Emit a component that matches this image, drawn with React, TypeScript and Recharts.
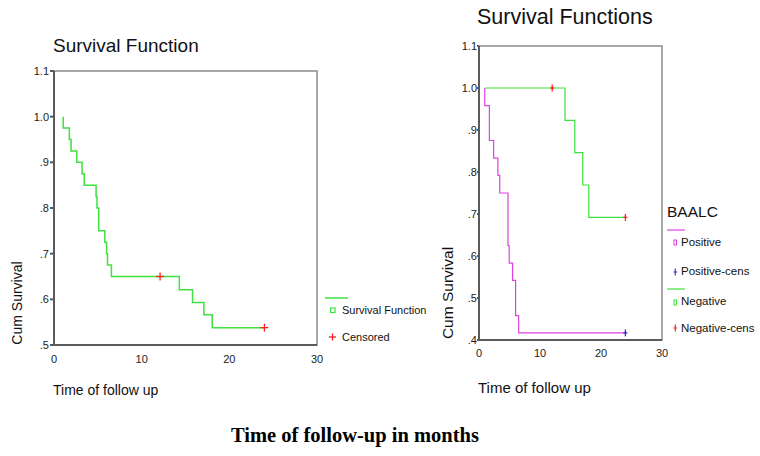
import React from 'react';
import {
  ComposedChart,
  Line,
  Scatter,
  XAxis,
  YAxis,
  ReferenceArea,
} from 'recharts';

// ---------- Data ----------
// Left: overall survival function (time in months, cumulative survival)
const overallTimes = [1.05, 1.05, 1.75, 1.95, 2.6, 3.2, 3.45, 4.8, 4.9, 5.1, 5.8, 6.0, 6.1, 6.55, 14.3, 15.8, 17.1, 18.05, 24.0];
const overallSurv = [1.0, 0.975, 0.95, 0.925, 0.9, 0.875, 0.85, 0.825, 0.8, 0.75, 0.725, 0.7, 0.675, 0.65, 0.621, 0.593, 0.566, 0.538, 0.538];
const overallCensTimes = [12.1, 24.0];
const overallCensSurv = [0.65, 0.538];

// Right: BAALC positive
const posTimes = [0.95, 0.95, 1.7, 2.4, 3.1, 3.4, 4.75, 4.95, 5.5, 6.0, 6.5, 24.0];
const posSurv = [1.0, 0.958, 0.875, 0.833, 0.792, 0.75, 0.625, 0.583, 0.542, 0.458, 0.417, 0.417];
const posCensTimes = [24.0];
const posCensSurv = [0.417];

// Right: BAALC negative
const negTimes = [0.95, 14.1, 15.7, 17.0, 18.0, 24.0];
const negSurv = [1.0, 0.923, 0.846, 0.769, 0.692, 0.692];
const negCensTimes = [12.0, 24.0];
const negCensSurv = [1.0, 0.692];

const xTicks = [0, 10, 20, 30];
const leftYTicks = [0.5, 0.6, 0.7, 0.8, 0.9, 1.0, 1.1];
const rightYTicks = [0.4, 0.5, 0.6, 0.7, 0.8, 0.9, 1.0, 1.1];

const zip = (ts: number[], ss: number[]) => ts.map((t, i) => ({ t, s: ss[i] }));

const overallData = zip(overallTimes, overallSurv);
const overallCens = zip(overallCensTimes, overallCensSurv);
const posData = zip(posTimes, posSurv);
const posCens = zip(posCensTimes, posCensSurv);
const negData = zip(negTimes, negSurv);
const negCens = zip(negCensTimes, negCensSurv);

// ---------- Styles ----------
const FONT = '"Liberation Sans", Arial, sans-serif';
const GREEN = '#3fe03f';
const MAGENTA = '#e040e0';
const RED = '#ff2020';
const BLUE = '#3030c0';
const AXIS = '#5a5a5a';
const FRAME = '#8a8a8a';

const fmt = (v: number) => {
  const s = v.toFixed(1);
  return v < 1 ? s.replace(/^0/, '') : s;
};

const makeCross = (color: string, w: number, h: number) => (props: any) => {
  const { cx, cy } = props;
  if (cx == null || cy == null) return <g />;
  return (
    <g>
      <line x1={cx - w} x2={cx + w} y1={cy} y2={cy} stroke={color} strokeWidth={1.3} />
      <line x1={cx} x2={cx} y1={cy - h} y2={cy + h} stroke={color} strokeWidth={1.3} />
    </g>
  );
};

const tickStyle = { fontSize: 11, fill: '#222', fontFamily: FONT };

const abs = (extra: React.CSSProperties): React.CSSProperties => ({
  position: 'absolute',
  fontFamily: FONT,
  color: '#111',
  whiteSpace: 'nowrap',
  lineHeight: 1,
  ...extra,
});

export default function App() {
  return (
    <div
      style={{
        position: 'absolute',
        left: 0,
        top: 0,
        width: 760,
        height: 456,
        background: '#fff',
        overflow: 'hidden',
      }}
    >
      {/* ---------- Left chart ---------- */}
      <div style={abs({ left: 53, top: 36, fontSize: 19 })}>Survival Function</div>
      <div style={{ position: 'absolute', left: 0, top: 0 }}>
        <ComposedChart width={330} height={420} margin={{ top: 71, right: 13, bottom: 45, left: 0 }}>
          <XAxis
            type="number"
            dataKey="t"
            domain={[0, 30]}
            ticks={xTicks}
            allowDataOverflow
            tickLine={false}
            tickMargin={4}
            height={30}
            stroke={AXIS}
            strokeWidth={2}
            tick={tickStyle}
          />
          <YAxis
            type="number"
            dataKey="s"
            domain={[0.5, 1.1]}
            ticks={leftYTicks}
            allowDataOverflow
            tickFormatter={fmt}
            width={54}
            tickSize={4}
            tickMargin={1}
            stroke={AXIS}
            strokeWidth={2}
            tick={tickStyle}
          />
          <ReferenceArea x1={0} x2={30} y1={0.5} y2={1.1} fill="none" stroke={FRAME} strokeWidth={1.5} />
          <Line
            data={overallData}
            dataKey="s"
            type="stepAfter"
            stroke={GREEN}
            strokeWidth={1.5}
            dot={false}
            isAnimationActive={false}
          />
          <Scatter data={overallCens} shape={makeCross(RED, 4, 4)} isAnimationActive={false} />
        </ComposedChart>
      </div>
      <div
        style={abs({
          left: 17,
          top: 303,
          fontSize: 14,
          transform: 'translate(-50%, -50%) rotate(-90deg)',
        })}
      >
        Cum Survival
      </div>
      <div style={abs({ left: 53, top: 383, fontSize: 14 })}>Time of follow up</div>

      {/* Left legend */}
      <svg style={{ position: 'absolute', left: 320, top: 290 }} width={40} height={60}>
        <line x1={5} x2={28} y1={8} y2={8} stroke={GREEN} strokeWidth={1.5} />
        <rect x={10.5} y={18} width={4.5} height={4.5} fill="none" stroke={GREEN} strokeWidth={1.2} />
        <line x1={9} x2={16} y1={47} y2={47} stroke={RED} strokeWidth={1.3} />
        <line x1={12.5} x2={12.5} y1={43.5} y2={50.5} stroke={RED} strokeWidth={1.3} />
      </svg>
      <div style={abs({ left: 342, top: 305, fontSize: 11 })}>Survival Function</div>
      <div style={abs({ left: 342, top: 332, fontSize: 11 })}>Censored</div>

      {/* ---------- Right chart ---------- */}
      <div style={abs({ left: 477, top: 7, fontSize: 21.5 })}>Survival Functions</div>
      <div style={{ position: 'absolute', left: 430, top: 0 }}>
        <ComposedChart width={245} height={420} margin={{ top: 46, right: 13, bottom: 50, left: 0 }}>
          <XAxis
            type="number"
            dataKey="t"
            domain={[0, 30]}
            ticks={xTicks}
            allowDataOverflow
            tickLine={false}
            tickMargin={3}
            height={30}
            stroke={AXIS}
            strokeWidth={2}
            tick={tickStyle}
          />
          <YAxis
            type="number"
            dataKey="s"
            domain={[0.4, 1.1]}
            ticks={rightYTicks}
            allowDataOverflow
            tickFormatter={fmt}
            width={49}
            tickSize={2}
            tickMargin={0}
            stroke={AXIS}
            strokeWidth={2}
            tick={tickStyle}
          />
          <ReferenceArea x1={0} x2={30} y1={0.4} y2={1.1} fill="none" stroke={FRAME} strokeWidth={1.5} />
          <Line
            data={negData}
            dataKey="s"
            type="stepAfter"
            stroke={GREEN}
            strokeWidth={1.2}
            dot={false}
            isAnimationActive={false}
          />
          <Line
            data={posData}
            dataKey="s"
            type="stepAfter"
            stroke={MAGENTA}
            strokeWidth={1.2}
            dot={false}
            isAnimationActive={false}
          />
          <Scatter data={negCens} shape={makeCross(RED, 2, 3.5)} isAnimationActive={false} />
          <Scatter data={posCens} shape={makeCross(BLUE, 2, 3.5)} isAnimationActive={false} />
        </ComposedChart>
      </div>
      <div
        style={abs({
          left: 448,
          top: 293,
          fontSize: 15.5,
          transform: 'translate(-50%, -50%) rotate(-90deg)',
        })}
      >
        Cum Survival
      </div>
      <div style={abs({ left: 478, top: 380, fontSize: 15 })}>Time of follow up</div>

      {/* Right legend */}
      <div style={abs({ left: 667, top: 204, fontSize: 15.5 })}>BAALC</div>
      <svg style={{ position: 'absolute', left: 664, top: 222 }} width={30} height={115}>
        <line x1={3} x2={21} y1={8} y2={8} stroke={MAGENTA} strokeWidth={1.2} />
        <rect x={10} y={18} width={2.5} height={5} fill="none" stroke={MAGENTA} strokeWidth={1} />
        <line x1={9.5} x2={13} y1={50} y2={50} stroke={BLUE} strokeWidth={1.1} />
        <line x1={11.25} x2={11.25} y1={46.5} y2={53.5} stroke={BLUE} strokeWidth={1.1} />
        <line x1={3} x2={21} y1={67} y2={67} stroke={GREEN} strokeWidth={1.2} />
        <rect x={10} y={78} width={2.5} height={5} fill="none" stroke={GREEN} strokeWidth={1} />
        <line x1={9.5} x2={13} y1={106} y2={106} stroke={RED} strokeWidth={1.1} />
        <line x1={11.25} x2={11.25} y1={102.5} y2={109.5} stroke={RED} strokeWidth={1.1} />
      </svg>
      <div style={abs({ left: 681, top: 237, fontSize: 11.5 })}>Positive</div>
      <div style={abs({ left: 681, top: 266, fontSize: 11.5 })}>Positive-cens</div>
      <div style={abs({ left: 681, top: 296, fontSize: 11.5 })}>Negative</div>
      <div style={abs({ left: 681, top: 323, fontSize: 11.5 })}>Negative-cens</div>

      {/* Caption */}
      <div
        style={{
          position: 'absolute',
          left: 231,
          top: 424,
          fontFamily: '"Liberation Serif", "Times New Roman", serif',
          fontWeight: 'bold',
          fontSize: 20.5,
          lineHeight: 1.1,
          color: '#000',
          whiteSpace: 'nowrap',
        }}
      >
        Time of follow-up in months
      </div>
    </div>
  );
}
